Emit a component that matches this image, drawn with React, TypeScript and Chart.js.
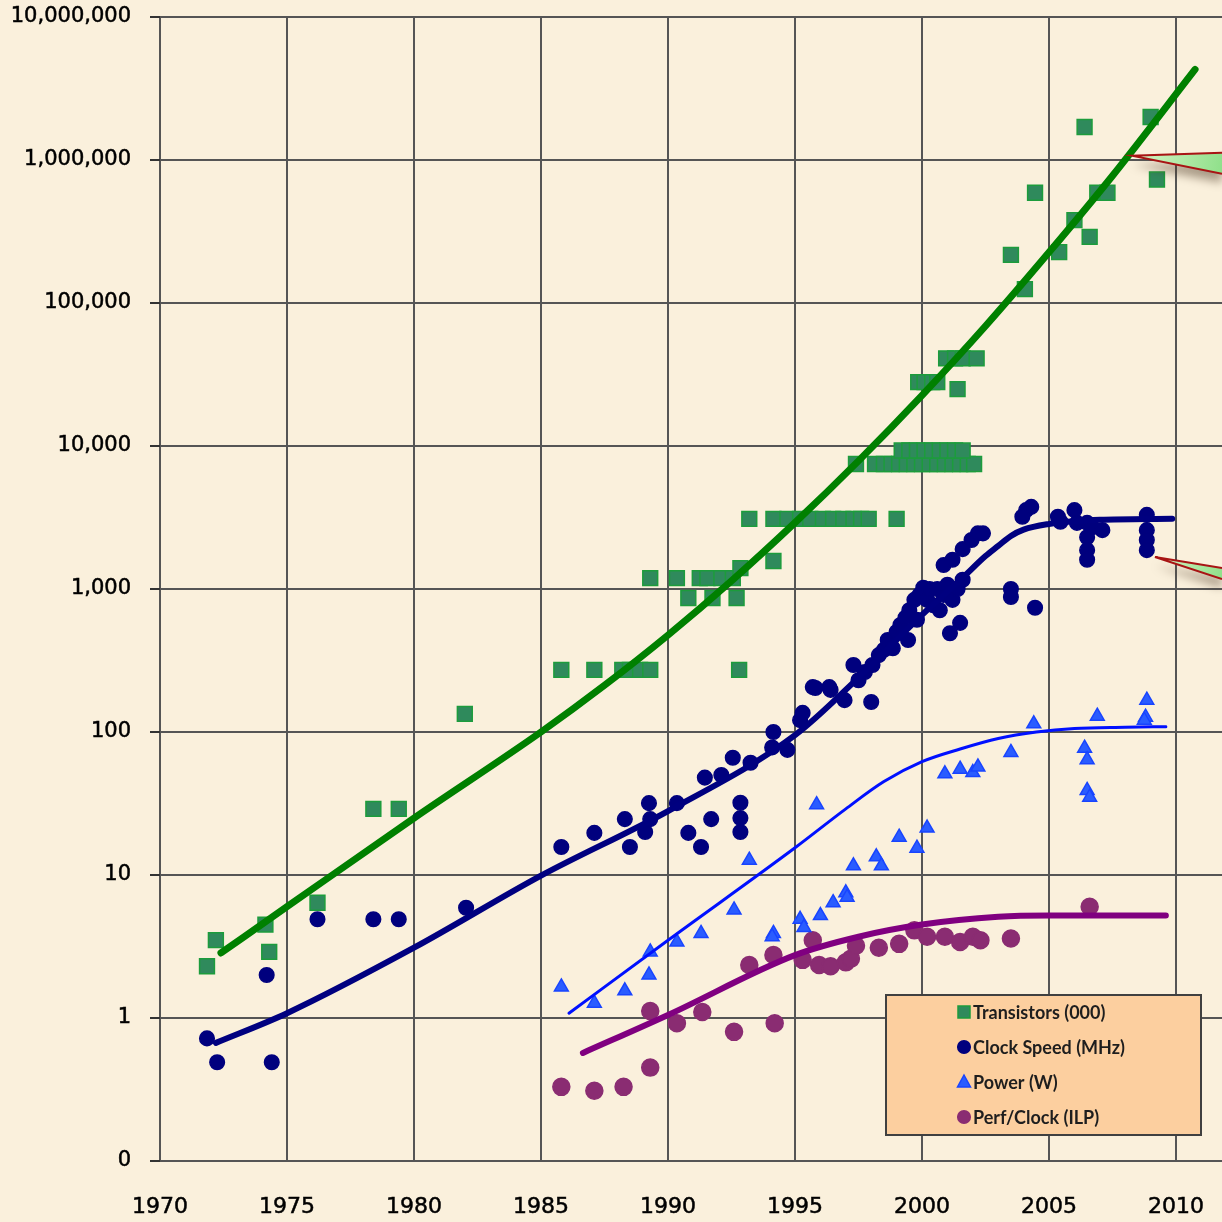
import React, { useEffect, useRef } from 'react';
import { Chart, registerables } from 'chart.js';

Chart.register(...registerables);

type Pt = [number, number];

const seriesLabels = ['Transistors (000)', 'Clock Speed (MHz)', 'Power (W)', 'Perf/Clock (ILP)'];

const xTickYears = [1970, 1975, 1980, 1985, 1990, 1995, 2000, 2005, 2010];
const yTickValues = [0.1, 1, 10, 100, 1000, 10000, 100000, 1000000, 10000000];
const yTickLabels = ['0', '1', '10', '100', '1,000', '10,000', '100,000', '1,000,000', '10,000,000'];

// Transistors (thousands)
const transistors: Pt[] = [
  [1971.85, 2.3], [1972.2, 3.5], [1974.15, 4.5], [1974.3, 2.9], [1976.2, 6.4], [1978.4, 29], [1979.4, 29], [1982.0, 134],
  [1985.8, 272], [1987.1, 272], [1988.2, 272], [1988.5, 272], [1988.9, 272], [1989.3, 272],
  [1989.3, 1190], [1990.35, 1190], [1991.25, 1190], [1991.55, 1190], [1992.1, 1190], [1992.55, 1190],
  [1990.8, 865], [1991.75, 865], [1992.7, 865], [1992.85, 1400], [1992.8, 272],
  [1993.2, 3090], [1994.15, 3090], [1994.15, 1570], [1994.7, 3090], [1995.2, 3090], [1995.6, 3090], [1996.1, 3090],
  [1996.5, 3090], [1996.9, 3090], [1997.3, 3090], [1997.6, 3090], [1997.9, 3090], [1999.0, 3090],
  [1997.4, 7480], [1998.15, 7480], [1998.5, 7480], [1998.8, 7480], [1999.1, 7480], [1999.4, 7480], [1999.7, 7480],
  [2000.0, 7480], [2000.3, 7480], [2000.6, 7480], [2000.9, 7480], [2001.2, 7480], [2001.5, 7480], [2001.8, 7480], [2002.05, 7480],
  [1999.2, 9300], [1999.5, 9300], [1999.8, 9300], [2000.1, 9300], [2000.4, 9300], [2000.7, 9300], [2001.0, 9300], [2001.3, 9300], [2001.6, 9300],
  [1999.85, 28000], [2000.1, 28000], [2000.4, 28000], [2000.6, 28000], [2001.4, 25000],
  [2000.95, 41000], [2001.3, 41000], [2001.6, 41000], [2002.15, 41000],
  [2003.5, 217000], [2004.05, 125000], [2004.45, 590000], [2005.4, 227000], [2006.0, 380000], [2006.4, 1700000],
  [2006.6, 290000], [2006.9, 590000], [2007.3, 590000], [2009.0, 2000000], [2009.25, 730000],
];

// Clock speed (MHz)
const clockSpeed: Pt[] = [
  [1971.85, 0.72], [1972.25, 0.49], [1974.2, 2.0], [1974.4, 0.49], [1976.2, 4.9], [1978.4, 4.9], [1979.4, 4.9], [1982.05, 5.9],
  [1985.8, 15.7], [1987.1, 19.7], [1988.3, 24.6], [1988.5, 15.7], [1989.1, 20], [1989.25, 31.8], [1989.3, 24.6],
  [1990.35, 31.8], [1990.8, 19.7], [1991.3, 15.7], [1991.45, 48], [1991.7, 24.6], [1992.1, 50], [1992.55, 66],
  [1992.85, 32], [1992.85, 25], [1992.85, 20], [1993.25, 61],
  [1994.15, 100], [1994.1, 78], [1994.7, 75], [1995.2, 121], [1995.3, 136], [1995.7, 206], [1995.8, 203],
  [1996.35, 206], [1996.4, 197], [1996.95, 167], [1997.3, 294], [1998.0, 162],
  [1997.5, 230], [1997.75, 263], [1998.05, 294], [1998.3, 345], [1998.5, 375], [1998.65, 440], [1998.85, 385],
  [1999.0, 500], [1999.15, 560], [1999.35, 630], [1999.45, 440], [1999.5, 710], [1999.7, 840], [1999.8, 610],
  [1999.9, 910], [2000.05, 1020], [2000.2, 840], [2000.3, 1000], [2000.45, 770], [2000.6, 1000], [2000.7, 710],
  [2000.85, 910], [2001.0, 1070], [2001.2, 840], [2001.4, 1000], [2001.6, 1160],
  [2000.85, 1470], [2001.1, 490], [2001.5, 580], [2001.2, 1600], [2001.6, 1900], [2001.95, 2200], [2002.2, 2450], [2002.4, 2450],
  [2003.5, 1000], [2003.5, 880], [2004.45, 740],
  [2004.1, 3560], [2004.3, 3750], [2003.95, 3200], [2005.45, 2950], [2005.35, 3200], [2006.0, 3560], [2006.1, 2900],
  [2006.5, 2900], [2006.5, 2300], [2006.5, 1870], [2006.5, 1600], [2006.7, 2700], [2007.1, 2580],
  [2008.85, 3300], [2008.85, 2580], [2008.85, 2200], [2008.85, 1870],
];

// Power (W)
const power: Pt[] = [
  [1985.8, 1.65], [1987.1, 1.27], [1988.3, 1.55], [1989.25, 2.0], [1989.3, 2.9], [1990.35, 3.4], [1991.3, 3.9],
  [1992.6, 5.7], [1993.2, 12.7], [1994.15, 3.9], [1994.1, 3.7], [1995.2, 4.9], [1995.35, 4.3], [1995.85, 31],
  [1996.0, 5.2], [1996.5, 6.4], [1997.0, 7.5], [1997.05, 7.0], [1997.3, 11.6], [1998.2, 13.4], [1998.4, 11.6],
  [1999.1, 18.4], [1999.8, 15.4], [2000.2, 21.3], [2000.9, 51], [2001.5, 55], [2002.0, 52], [2002.2, 57],
  [2003.5, 72], [2004.4, 114], [2006.4, 77], [2006.5, 64], [2006.5, 39], [2006.6, 35], [2006.9, 129],
  [2008.8, 127], [2008.85, 167], [2008.75, 121],
];

// Perf/Clock (ILP)
const perfClock: Pt[] = [
  [1985.8, 0.33], [1987.1, 0.31], [1988.25, 0.33], [1989.3, 0.45], [1989.3, 1.12], [1990.35, 0.92], [1991.35, 1.1],
  [1992.6, 0.8], [1993.2, 2.35], [1994.2, 0.92], [1994.15, 2.76], [1995.3, 2.55], [1995.7, 3.5], [1995.95, 2.35],
  [1996.4, 2.3], [1997.0, 2.45], [1997.2, 2.6], [1997.4, 3.2], [1998.3, 3.1], [1999.1, 3.3], [1999.7, 4.1],
  [2000.2, 3.7], [2000.9, 3.7], [2001.5, 3.4], [2002.0, 3.7], [2002.3, 3.5], [2003.5, 3.6], [2006.6, 6.0],
];

// Trend curves
const transistorTrend: Pt[] = [
  [1972.4, 2.85], [1975, 6.0], [1980, 25], [1985, 100], [1987.5, 212], [1990, 476], [1992.5, 1140], [1995, 2910],
  [1997.5, 7870], [2000, 22600], [2002.5, 69000], [2005, 226000], [2007.5, 776000], [2010.75, 4300000],
];
const clockTrend: Pt[] = [
  [1972.2, 0.67], [1975, 1.08], [1980, 3.1], [1985, 9.9], [1990, 28], [1995, 95], [1997.5, 240],
  [2000, 660], [2001.6, 1200], [2002.5, 1700], [2003, 2000], [2003.5, 2350], [2004, 2600], [2005, 2850],
  [2006, 2980], [2007, 3050], [2009.85, 3100],
];
const powerTrend: Pt[] = [
  [1986.1, 1.08], [1990, 3.5], [1995, 15.5], [1997, 29], [1998.5, 45], [2000, 62], [2001.5, 76], [2003, 90],
  [2004.5, 100], [2006, 106], [2008, 108], [2009.6, 109],
];
const perfTrend: Pt[] = [
  [1986.65, 0.57], [1990, 1.05], [1995, 2.75], [1997.5, 3.7], [2000, 4.5], [2003, 5.1], [2005, 5.2], [2009.6, 5.2],
];

// Callout pointer tips (year, value)
const calloutTips: Pt[] = [[2008.27, 1070000], [2009.17, 1675]];

const toXY = (arr: Pt[]) => arr.map(([x, y]) => ({ x, y }));

const seriesStyles = [
  { pointStyle: 'rect', bg: '#2f8a5c', border: '#1c9c3c', radius: 10.5, line: '#008000', lineWidth: 7 },
  { pointStyle: 'circle', bg: '#00007e', border: '#00007e', radius: 7.3, line: '#000080', lineWidth: 6 },
  { pointStyle: 'triangle', bg: '#2a5cff', border: '#1844ff', radius: 8, line: '#0010ff', lineWidth: 3 },
  { pointStyle: 'circle', bg: '#8a2c72', border: '#8a2c72', radius: 8.5, line: '#800080', lineWidth: 6 },
];

const pointSets = [transistors, clockSpeed, power, perfClock];
const trendSets = [transistorTrend, clockTrend, powerTrend, perfTrend];

const parchmentPlugin = {
  id: 'parchment',
  beforeDraw(chart: any) {
    const { ctx, width, height } = chart;
    ctx.save();
    ctx.fillStyle = '#faf0dc';
    ctx.fillRect(0, 0, width, height);
    ctx.restore();
  },
};

const calloutPlugin = {
  id: 'callouts',
  afterDraw(chart: any) {
    const { ctx, scales, width } = chart;
    const spans = [[-3, 18], [11, 22]];
    calloutTips.forEach(([yr, val], i) => {
      const tx = scales.x.getPixelForValue(yr);
      const ty = scales.y.getPixelForValue(val);
      const [d1, d2] = spans[i];
      ctx.save();
      ctx.beginPath();
      ctx.moveTo(tx, ty);
      ctx.lineTo(width, ty + d1);
      ctx.lineTo(width, ty + d2);
      ctx.closePath();
      ctx.shadowColor = 'rgba(70,50,30,0.45)';
      ctx.shadowBlur = 10;
      ctx.shadowOffsetY = 9;
      const g = ctx.createLinearGradient(tx, ty, width, ty + d2);
      g.addColorStop(0, '#d8f5c8');
      g.addColorStop(1, '#8fe08a');
      ctx.fillStyle = g;
      ctx.fill();
      ctx.restore();
      ctx.save();
      ctx.strokeStyle = '#a81414';
      ctx.lineWidth = 2;
      ctx.beginPath();
      ctx.moveTo(width, ty + d1);
      ctx.lineTo(tx, ty);
      ctx.lineTo(width, ty + d2);
      ctx.stroke();
      ctx.restore();
    });
  },
};

const legendPlugin = {
  id: 'boxLegend',
  afterDraw(chart: any) {
    const { ctx, chartArea } = chart;
    const left = chartArea.right - 336;
    const top = chartArea.bottom - 166;
    ctx.save();
    ctx.fillStyle = '#fccf9f';
    ctx.fillRect(left, top, 315, 140);
    ctx.strokeStyle = '#404040';
    ctx.lineWidth = 2;
    ctx.strokeRect(left, top, 315, 140);
    seriesLabels.forEach((label, i) => {
      const s = seriesStyles[i];
      const cx = left + 78;
      const cy = top + 17 + i * 35;
      ctx.fillStyle = s.bg;
      ctx.strokeStyle = s.border;
      ctx.lineWidth = 1.5;
      ctx.beginPath();
      if (s.pointStyle === 'rect') {
        ctx.rect(cx - 6, cy - 6, 12, 12);
      } else if (s.pointStyle === 'triangle') {
        ctx.moveTo(cx, cy - 7);
        ctx.lineTo(cx + 6.5, cy + 5);
        ctx.lineTo(cx - 6.5, cy + 5);
        ctx.closePath();
      } else {
        ctx.arc(cx, cy, 6.3, 0, Math.PI * 2);
      }
      ctx.fill();
      ctx.stroke();
      ctx.fillStyle = '#1e1e1e';
      ctx.font = 'bold 18px Lato';
      ctx.textBaseline = 'middle';
      ctx.textAlign = 'left';
      ctx.fillText(label, left + 87, cy + 1);
    });
    ctx.restore();
  },
};

export default function App() {
  const ref = useRef<HTMLCanvasElement | null>(null);

  useEffect(() => {
    if (!ref.current) return;
    const trendDatasets = trendSets.map((set, i) => ({
      label: seriesLabels[i] + ' trend',
      data: toXY(set),
      showLine: true,
      borderColor: seriesStyles[i].line,
      borderWidth: seriesStyles[i].lineWidth,
      borderCapStyle: 'round',
      borderJoinStyle: 'round',
      cubicInterpolationMode: 'monotone',
      pointRadius: 0,
      fill: false,
      order: 0,
    }));
    const pointDatasets = pointSets.map((set, i) => ({
      label: seriesLabels[i],
      data: toXY(set),
      showLine: false,
      pointStyle: seriesStyles[i].pointStyle,
      pointRadius: seriesStyles[i].radius,
      pointBackgroundColor: seriesStyles[i].bg,
      pointBorderColor: seriesStyles[i].border,
      pointBorderWidth: 1.5,
      order: 1,
    }));

    const chart = new Chart(ref.current, {
      type: 'scatter',
      data: { datasets: [...trendDatasets, ...pointDatasets] as any },
      plugins: [parchmentPlugin, calloutPlugin, legendPlugin],
      options: {
        responsive: false,
        animation: false,
        events: [],
        layout: { autoPadding: false, padding: { top: 17, left: 0, right: 0, bottom: 0 } },
        plugins: { legend: { display: false }, tooltip: { enabled: false } },
        scales: {
          x: {
            type: 'linear',
            min: 1970,
            max: 2011.81,
            afterBuildTicks: (s: any) => { s.ticks = xTickYears.map((v) => ({ value: v })); },
            afterFit: (s: any) => { s.height = 61; s.paddingLeft = 0; s.paddingRight = 0; },
            grid: { color: '#555555', lineWidth: 2, drawTicks: false },
            border: { display: false },
            ticks: {
              autoSkip: false,
              maxRotation: 0,
              padding: 0,
              color: '#000',
              textStrokeColor: '#000',
              textStrokeWidth: 0.5,
              font: { family: 'DejaVu Sans', size: 22, lineHeight: 93 / 22 },
              callback: (v: any) => String(v),
            },
          },
          y: {
            type: 'logarithmic',
            min: 0.1,
            max: 10000000,
            afterBuildTicks: (s: any) => { s.ticks = yTickValues.map((v) => ({ value: v })); },
            afterFit: (s: any) => { s.width = 160; s.paddingTop = 0; s.paddingBottom = 0; },
            grid: { color: '#555555', lineWidth: 2, drawTicks: true, tickLength: 10, tickColor: '#333333' },
            border: { display: false },
            ticks: {
              autoSkip: false,
              padding: 19,
              color: '#000',
              textStrokeColor: '#000',
              textStrokeWidth: 0.5,
              font: { family: 'DejaVu Sans', size: 21 },
              callback: (v: any) => {
                const idx = yTickValues.findIndex((t) => Math.abs(Math.log10(t) - Math.log10(Number(v))) < 1e-6);
                return idx >= 0 ? yTickLabels[idx] : '';
              },
            },
          },
        },
      } as any,
    });
    return () => chart.destroy();
  }, []);

  return (
    <div style={{ position: 'absolute', left: 0, top: 0, width: 1222, height: 1222 }}>
      <canvas ref={ref} width={1222} height={1222} style={{ display: 'block' }} />
    </div>
  );
}
